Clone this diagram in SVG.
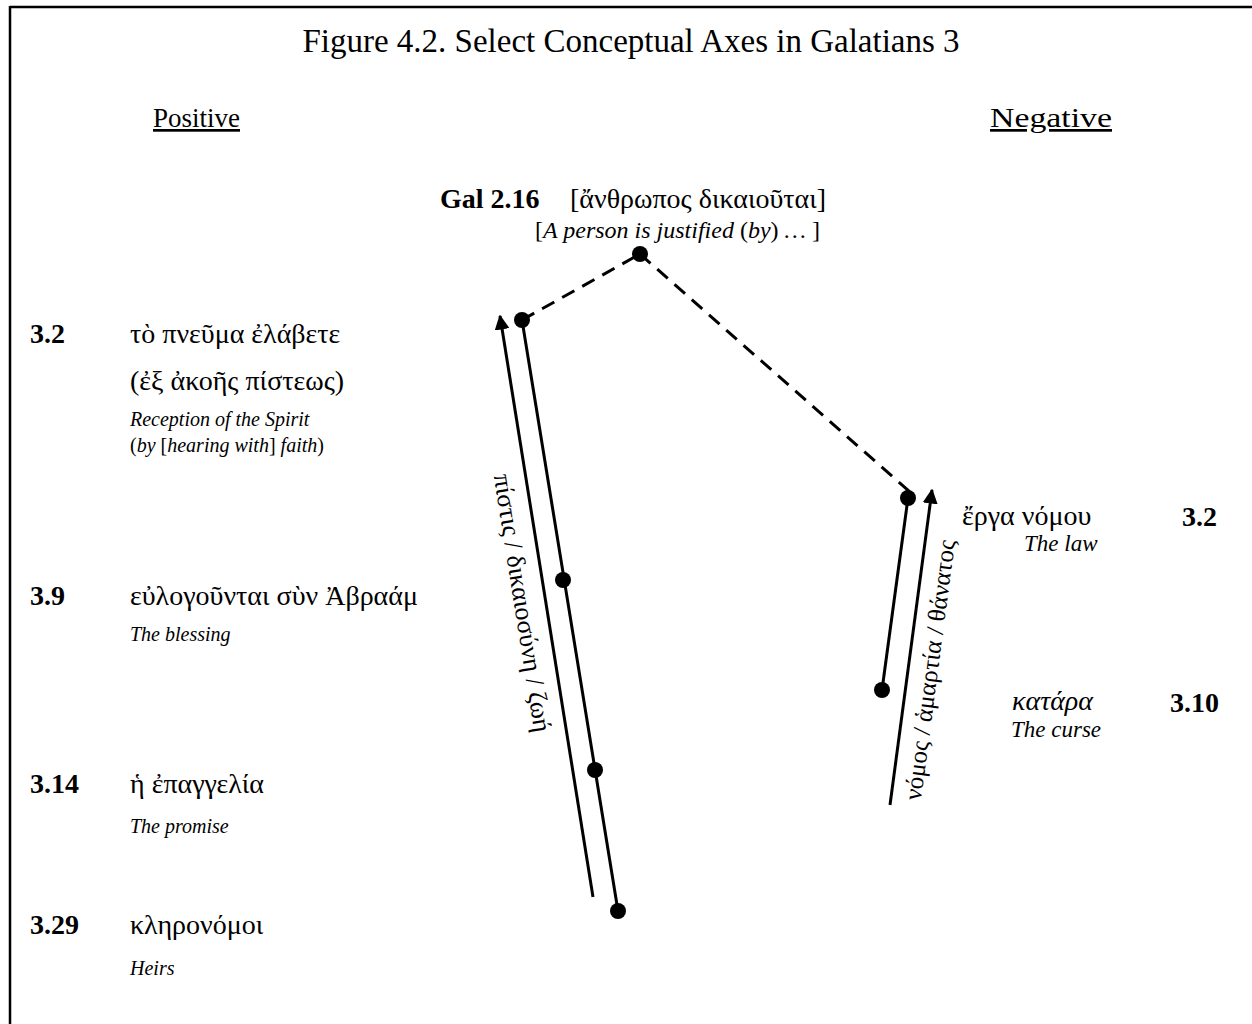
<svg xmlns="http://www.w3.org/2000/svg" width="1252" height="1024" viewBox="0 0 1252 1024">
<style>
  .t{font-family:"Liberation Serif","DejaVu Serif",serif;fill:#000}
  .title{font-size:33px}
  .head{font-size:27px;text-decoration:underline}
  .num{font-size:28px;font-weight:bold}
  .gk{font-size:28px}
  .en{font-size:20px;font-style:italic}
  .enr{font-size:23px;font-style:italic}
  .rl{font-size:26px}
  .ln{stroke:#000;stroke-width:3;fill:none}
  .dash{stroke:#000;stroke-width:3;fill:none;stroke-dasharray:14 9}
  .dot{fill:#000}
</style>
<defs>
  <marker id="ah" viewBox="0 0 10 10" refX="9" refY="5" markerWidth="5" markerHeight="5" orient="auto" markerUnits="strokeWidth">
    <path d="M0,0 L10,5 L0,10 z" fill="#000"/>
  </marker>
</defs>
<rect x="0" y="0" width="1252" height="1024" fill="#fff"/>
<g id="frame">
  <line x1="10" y1="7" x2="1252" y2="7" stroke="#000" stroke-width="2.5"/>
  <line x1="10" y1="6" x2="10" y2="1024" stroke="#000" stroke-width="2.5"/>
</g>
<text class="t title" x="631" y="52" text-anchor="middle">Figure 4.2. Select Conceptual Axes in Galatians 3</text>
<text class="t head" x="153" y="127">Positive</text>
<text class="t head" x="990" y="127" textLength="122" lengthAdjust="spacingAndGlyphs">Negative</text>

<g id="connectors">
  <line class="dash" x1="522" y1="320" x2="640" y2="254"/>
  <line class="dash" x1="640" y1="254" x2="910" y2="492"/>
  <line class="ln" x1="593" y1="897" x2="500" y2="316" marker-end="url(#ah)"/>
  <line class="ln" x1="522" y1="320" x2="618" y2="911"/>
  <line class="ln" x1="882" y1="690" x2="908" y2="498"/>
  <line class="ln" x1="890" y1="805" x2="932" y2="490" marker-end="url(#ah)"/>
  <text class="t rl" transform="translate(522,603) rotate(81)" x="0" y="8" text-anchor="middle">πίστις / δικαιοσύνη / ζωή</text>
  <text class="t rl" transform="translate(930,670) rotate(-82.5)" x="0" y="8" text-anchor="middle" style="font-size:25px">νόμος / ἁμαρτία / θάνατος</text>
</g>

<g id="node-gal216">
  <circle class="dot" cx="640" cy="254" r="8"/>
  <text class="t num" x="440" y="208">Gal 2.16</text>
  <text class="t gk" x="570" y="208">[ἄνθρωπος δικαιοῦται]</text>
  <text class="t en" x="535" y="238" style="font-size:24px"><tspan font-style="normal">[</tspan>A person is justified <tspan font-style="normal">(</tspan>by<tspan font-style="normal">)</tspan> … <tspan font-style="normal">]</tspan></text>
</g>

<g id="node-3-2-pos">
  <circle class="dot" cx="522" cy="320" r="8"/>
  <text class="t num" x="30" y="343">3.2</text>
  <text class="t gk" x="130" y="343">τὸ πνεῦμα ἐλάβετε</text>
  <text class="t gk" x="130" y="390">(ἐξ ἀκοῆς πίστεως)</text>
  <text class="t en" x="130" y="426">Reception of the Spirit</text>
  <text class="t en" x="130" y="452"><tspan font-style="normal">(</tspan>by <tspan font-style="normal">[</tspan>hearing with<tspan font-style="normal">]</tspan> faith<tspan font-style="normal">)</tspan></text>
</g>

<g id="node-3-9">
  <circle class="dot" cx="563" cy="580" r="8"/>
  <text class="t num" x="30" y="605">3.9</text>
  <text class="t gk" x="130" y="605">εὐλογοῦνται σὺν Ἀβραάμ</text>
  <text class="t en" x="130" y="641">The blessing</text>
</g>

<g id="node-3-14">
  <circle class="dot" cx="595" cy="770" r="8"/>
  <text class="t num" x="30" y="793">3.14</text>
  <text class="t gk" x="130" y="793">ἡ ἐπαγγελία</text>
  <text class="t en" x="130" y="833">The promise</text>
</g>

<g id="node-3-29">
  <circle class="dot" cx="618" cy="911" r="8"/>
  <text class="t num" x="30" y="934">3.29</text>
  <text class="t gk" x="130" y="934">κληρονόμοι</text>
  <text class="t en" x="130" y="975">Heirs</text>
</g>

<g id="node-3-2-neg">
  <circle class="dot" cx="908" cy="498" r="8"/>
  <text class="t gk" x="962" y="525">ἔργα νόμου</text>
  <text class="t enr" x="1024" y="551">The law</text>
  <text class="t num" x="1182" y="526">3.2</text>
</g>

<g id="node-3-10">
  <circle class="dot" cx="882" cy="690" r="8"/>
  <text class="t gk" x="1012" y="710" font-style="italic">κατάρα</text>
  <text class="t enr" x="1011" y="737">The curse</text>
  <text class="t num" x="1170" y="712">3.10</text>
</g>
</svg>
